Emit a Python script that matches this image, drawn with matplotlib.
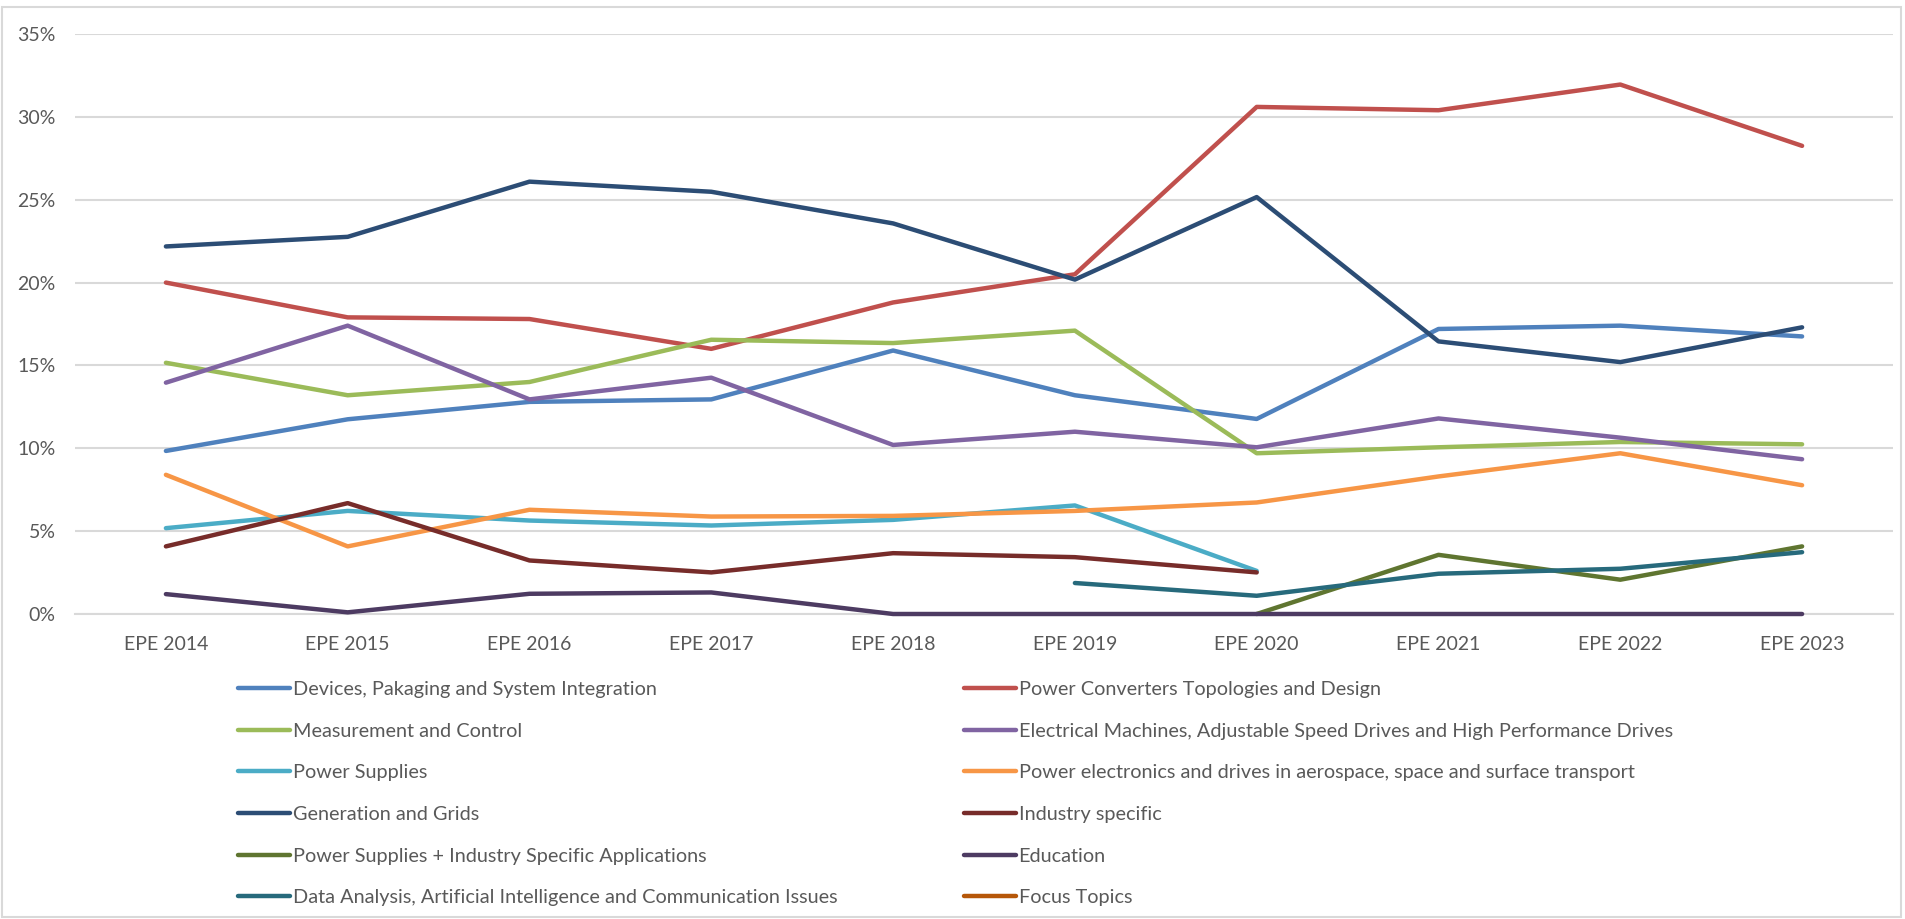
import matplotlib.pyplot as plt
import numpy as np
from matplotlib.patches import Rectangle
from matplotlib.ticker import PercentFormatter

nan = np.nan

years = ["EPE 2014", "EPE 2015", "EPE 2016", "EPE 2017", "EPE 2018",
         "EPE 2019", "EPE 2020", "EPE 2021", "EPE 2022", "EPE 2023"]

devices = [9.84, 11.75, 12.8, 12.95, 15.9, 13.2, 11.77, 17.2, 17.4, 16.75]
converters = [20.0, 17.9, 17.8, 16.0, 18.8, 20.5, 30.6, 30.4, 31.95, 28.25]
measurement = [15.16, 13.2, 14.0, 16.55, 16.35, 17.1, 9.7, 10.06, 10.38, 10.24]
machines = [13.96, 17.4, 12.95, 14.26, 10.2, 11.0, 10.06, 11.8, 10.64, 9.34]
supplies = [5.18, 6.22, 5.64, 5.34, 5.68, 6.55, 2.6, nan, nan, nan]
aerospace = [8.4, 4.08, 6.29, 5.88, 5.92, 6.22, 6.73, 8.3, 9.7, 7.77]
grids = [22.18, 22.76, 26.09, 25.48, 23.57, 20.18, 25.16, 16.45, 15.2, 17.3]
industry = [4.08, 6.69, 3.23, 2.51, 3.67, 3.43, 2.51, nan, nan, nan]
supplies_industry = [nan, nan, nan, nan, nan, nan, 0.0, 3.57, 2.07, 4.08]
education = [1.2, 0.1, 1.22, 1.3, 0.0, 0.0, 0.0, 0.0, 0.0, 0.0]
data_ai = [nan, nan, nan, nan, nan, 1.87, 1.1, 2.43, 2.73, 3.73]
focus = [nan] * 10

series = [
    ("Devices, Pakaging and System Integration", devices, "#4F81BD"),
    ("Power Converters Topologies and Design", converters, "#C0504D"),
    ("Measurement and Control", measurement, "#9BBB59"),
    ("Electrical Machines, Adjustable Speed Drives and High Performance Drives", machines, "#8064A2"),
    ("Power Supplies", supplies, "#4BACC6"),
    ("Power electronics and drives in aerospace, space and surface transport", aerospace, "#F79646"),
    ("Generation and Grids", grids, "#2C4D75"),
    ("Industry specific", industry, "#772C2A"),
    ("Power Supplies + Industry Specific Applications", supplies_industry, "#5F7530"),
    ("Education", education, "#4D3B62"),
    ("Data Analysis, Artificial Intelligence and Communication Issues", data_ai, "#276A7C"),
    ("Focus Topics", focus, "#B65708"),
]

plt.rcParams["font.family"] = ["Lato", "DejaVu Sans"]
text_color = "#595959"

fig = plt.figure(figsize=(19.05, 9.19), dpi=100)
ax = fig.add_axes([75 / 1905, 1 - 614 / 919, 1818 / 1905, 580 / 919])

x = np.arange(len(years))
lines = []
for label, values, color in series:
    # clip_on off so the Education line sitting on 0% isn't cut in half
    (ln,) = ax.plot(x, np.array(values) / 100, color=color, lw=3.2, zorder=3, clip_on=False,
                    solid_capstyle="round", solid_joinstyle="round", label=label)
    lines.append(ln)

ax.set_xlim(-0.5, len(years) - 0.5)
ax.set_ylim(0, 0.35)
ax.set_yticks(np.arange(0, 0.351, 0.05))
ax.yaxis.set_major_formatter(PercentFormatter(1.0, decimals=0))
ax.set_xticks(x)
ax.set_xticklabels(years)
ax.tick_params(axis="both", length=0, labelsize=14, colors=text_color)
ax.tick_params(axis="y", pad=14)
ax.tick_params(axis="x", pad=16)
ax.grid(axis="y", color="#D9D9D9", lw=1.5)
ax.set_axisbelow(True)
for side in ["top", "right", "left"]:
    ax.spines[side].set_visible(False)
ax.spines["bottom"].set_color("#D9D9D9")
ax.spines["bottom"].set_linewidth(1.5)

# Excel fills the legend row by row, so split into two single-column legends
legend_kw = dict(frameon=False, fontsize=14.3, labelcolor=text_color, handlelength=2.6,
                 handletextpad=0.15, labelspacing=1.24, borderaxespad=0, borderpad=0)
fig.legend(handles=lines[0::2], loc="upper left",
           bbox_to_anchor=(238 / 1905, 1 - 681 / 919), **legend_kw)
fig.legend(handles=lines[1::2], loc="upper left",
           bbox_to_anchor=(964 / 1905, 1 - 681 / 919), **legend_kw)

fig.patches.append(Rectangle((2 / 1905, 2 / 919), 1899 / 1905, 910 / 919,
                             transform=fig.transFigure, fill=False,
                             edgecolor="#D9D9D9", lw=1.5))

fig.savefig("out.png", dpi=100)
